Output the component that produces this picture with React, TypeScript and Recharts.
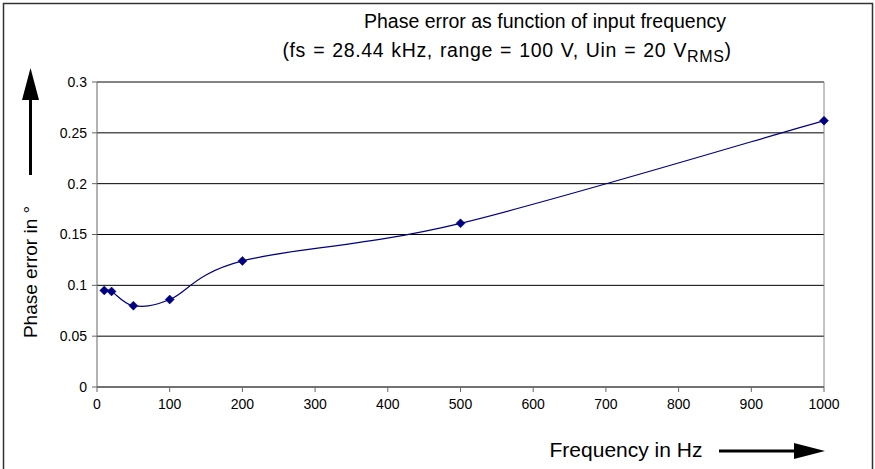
import { LineChart, Line, XAxis, YAxis, CartesianGrid, ReferenceLine } from "recharts";

const frequencies = [10, 20, 50, 100, 200, 500, 1000];
const phaseErrors = [0.095, 0.094, 0.08, 0.086, 0.124, 0.161, 0.262];
const xTicks = [0, 100, 200, 300, 400, 500, 600, 700, 800, 900, 1000];
const yTicks = [0, 0.05, 0.1, 0.15, 0.2, 0.25, 0.3];

const data = frequencies.map((f, i) => ({ f, err: phaseErrors[i] }));

const FONT = "'Liberation Sans', Arial, sans-serif";
const NAVY = "#000080";

// Excel style smoothed line (Catmull-Rom through the points)
function smoothCurve(ctx: any) {
  let pts: [number, number][] = [];
  return {
    areaStart() {},
    areaEnd() {},
    lineStart() {
      pts = [];
    },
    point(x: number, y: number) {
      pts.push([+x, +y]);
    },
    lineEnd() {
      if (!pts.length) return;
      ctx.moveTo(pts[0][0], pts[0][1]);
      for (let i = 0; i < pts.length - 1; i++) {
        const p0 = pts[Math.max(i - 1, 0)];
        const p1 = pts[i];
        const p2 = pts[i + 1];
        const p3 = pts[Math.min(i + 2, pts.length - 1)];
        ctx.bezierCurveTo(
          p1[0] + (p2[0] - p0[0]) / 6,
          p1[1] + (p2[1] - p0[1]) / 6,
          p2[0] - (p3[0] - p1[0]) / 6,
          p2[1] - (p3[1] - p1[1]) / 6,
          p2[0],
          p2[1]
        );
      }
    },
  };
}

function Diamond(props: any) {
  const { cx, cy } = props;
  if (cx == null || cy == null) return null;
  const s = 4.5;
  return (
    <path
      d={`M${cx},${cy - s}L${cx + s},${cy}L${cx},${cy + s}L${cx - s},${cy}Z`}
      fill={NAVY}
      stroke={NAVY}
      strokeWidth={0.5}
    />
  );
}

export default function App() {
  return (
    <div
      style={{
        position: "absolute",
        left: 0,
        top: 0,
        width: 875,
        height: 469,
        background: "#fff",
        fontFamily: FONT,
        overflow: "hidden",
      }}
    >
      <LineChart
        width={875}
        height={469}
        data={data}
        margin={{ top: 82, right: 51, left: 37, bottom: 52 }}
      >
        <CartesianGrid horizontal vertical={false} stroke="#000" strokeWidth={1} />
        <XAxis
          dataKey="f"
          type="number"
          domain={[0, 1000]}
          ticks={xTicks}
          height={30}
          stroke="#666"
          tickSize={5}
          tickMargin={7}
          tick={{ fill: "#000", fontSize: 14, fontFamily: FONT }}
          interval={0}
        />
        <YAxis
          type="number"
          domain={[0, 0.3]}
          ticks={yTicks}
          width={60}
          stroke="#666"
          tickSize={5}
          tickMargin={5}
          tick={{ fill: "#000", fontSize: 14, fontFamily: FONT }}
          interval={0}
        />
        <ReferenceLine y={0.3} stroke="#888" strokeWidth={1} />
        <ReferenceLine x={1000} stroke="#888" strokeWidth={1} />
        <Line
          dataKey="err"
          type={smoothCurve as any}
          stroke={NAVY}
          strokeWidth={1.2}
          dot={<Diamond />}
          activeDot={false}
          isAnimationActive={false}
        />
      </LineChart>

      <svg
        width={875}
        height={469}
        style={{ position: "absolute", left: 0, top: 0, pointerEvents: "none" }}
      >
        {/* outer frame */}
        <path d="M3.5,469 L3.5,3.5 L872.5,3.5 L872.5,469" fill="none" stroke="#333" strokeWidth={1.5} />
        <text x={545} y={28} textAnchor="middle" fontSize={19.5} fontFamily={FONT} fill="#000">
          Phase error as function of input frequency
        </text>
        <text
          x={507}
          y={57}
          textAnchor="middle"
          fontSize={19.5}
          fontFamily={FONT}
          fill="#000"
          letterSpacing={0.6}
          wordSpacing={1.2}
        >
          (fs = 28.44 kHz, range = 100 V, Uin = 20 V
          <tspan fontSize={16} dy={5}>RMS</tspan>
          <tspan fontSize={19.5} dy={-5}>)</tspan>
        </text>
        <text x={626} y={457} textAnchor="middle" fontSize={21} fontFamily={FONT} fill="#000">
          Frequency in Hz
        </text>
        <line x1={719} y1={451} x2={796} y2={451} stroke="#000" strokeWidth={3} />
        <path d="M794,443 L825,451 L794,459 Z" fill="#000" />
        <text
          x={0}
          y={0}
          transform="translate(37,272) rotate(-90)"
          textAnchor="middle"
          fontSize={19}
          fontFamily={FONT}
          fill="#000"
        >
          Phase error in °
        </text>
        <line x1={30.5} y1={175} x2={30.5} y2={98} stroke="#000" strokeWidth={3} />
        <path d="M22,100 L30.5,68 L39,100 Z" fill="#000" />
      </svg>
    </div>
  );
}
